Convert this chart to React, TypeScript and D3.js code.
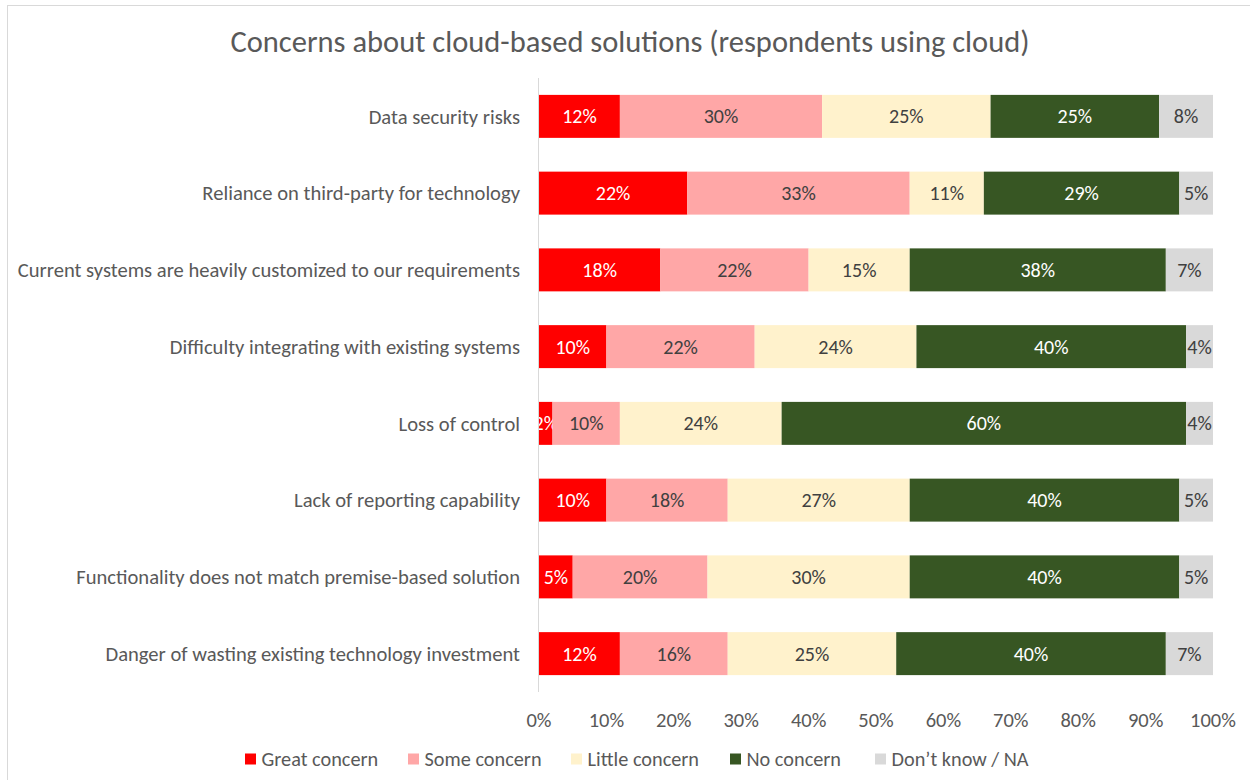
import React, { useEffect, useRef } from "react";
import * as d3 from "d3";

const categories = [
  "Data security risks",
  "Reliance on third-party for technology",
  "Current systems are heavily customized to our requirements",
  "Difficulty integrating with existing systems",
  "Loss of control",
  "Lack of reporting capability",
  "Functionality does not match premise-based solution",
  "Danger of wasting existing technology investment",
];

const seriesNames = ["Great concern", "Some concern", "Little concern", "No concern", "Don\u2019t know / NA"];

const greatConcern = [12, 22, 18, 10, 2, 10, 5, 12];
const someConcern = [30, 33, 22, 22, 10, 18, 20, 16];
const littleConcern = [25, 11, 15, 24, 24, 27, 30, 25];
const noConcern = [25, 29, 38, 40, 60, 40, 40, 40];
const dontKnow = [8, 5, 7, 4, 4, 5, 5, 7];

const xTicks = [0, 10, 20, 30, 40, 50, 60, 70, 80, 90, 100];

const colors = ["#FF0000", "#FFA7A7", "#FFF2CC", "#375623", "#D9D9D9"];
const labelColors = ["#FFFFFF", "#404040", "#404040", "#FFFFFF", "#404040"];

const FONT = "Carlito, Lato, 'Open Sans', sans-serif";

const App = () => {
  const svgRef = useRef<SVGSVGElement>(null);

  useEffect(() => {
    const width = 1250;
    const height = 780;
    const svg = d3.select(svgRef.current);
    svg.selectAll("*").remove();

    // chart frame
    svg
      .append("rect")
      .attr("x", 7.5)
      .attr("y", 5.5)
      .attr("width", width + 20)
      .attr("height", height + 20)
      .attr("fill", "#fff")
      .attr("stroke", "#D9D9D9");

    // title
    svg
      .append("text")
      .attr("x", 630)
      .attr("y", 52)
      .attr("text-anchor", "middle")
      .attr("fill", "#595959")
      .style("font-family", FONT)
      .style("font-weight", 300)
      .style("font-size", "30.5px")
      .text("Concerns about cloud-based solutions (respondents using cloud)");

    const series = [greatConcern, someConcern, littleConcern, noConcern, dontKnow];

    const x = d3.scaleLinear().domain([0, 100]).range([539, 1213]);
    const y = d3
      .scaleBand()
      .domain(categories)
      .range([78, 692])
      .paddingInner(0.44)
      .paddingOuter(0.22);

    // stacked rows
    const rows = categories.map((c, i) => {
      const r: any = { cat: c };
      series.forEach((s, k) => (r["s" + k] = s[i]));
      return r;
    });
    const stack = d3.stack().keys(series.map((_, k) => "s" + k));
    const stacked = stack(rows);

    stacked.forEach((layer, k) => {
      const g = svg.append("g");
      g.selectAll("rect")
        .data(layer)
        .enter()
        .append("rect")
        .attr("x", (d) => x(d[0]))
        .attr("y", (d: any) => y(d.data.cat)!)
        .attr("width", (d) => Math.max(0, x(d[1]) - x(d[0])))
        .attr("height", y.bandwidth())
        .attr("fill", colors[k]);

      g.selectAll("text")
        .data(layer)
        .enter()
        .append("text")
        .attr("x", (d) => (x(d[0]) + x(d[1])) / 2)
        .attr("y", (d: any) => y(d.data.cat)! + y.bandwidth() / 2)
        .attr("dy", "0.35em")
        .attr("text-anchor", "middle")
        .attr("fill", labelColors[k])
        .style("font-family", FONT)
        .style("font-size", "20px")
        .text((d) => `${d[1] - d[0]}%`);
    });

    // category axis line
    svg
      .append("line")
      .attr("x1", x(0) - 0.5)
      .attr("x2", x(0) - 0.5)
      .attr("y1", 78)
      .attr("y2", 692)
      .attr("stroke", "#D9D9D9");

    // category labels
    svg
      .append("g")
      .selectAll("text")
      .data(categories)
      .enter()
      .append("text")
      .attr("x", 520)
      .attr("y", (d) => y(d)! + y.bandwidth() / 2)
      .attr("dy", "0.35em")
      .attr("text-anchor", "end")
      .attr("fill", "#595959")
      .style("font-family", FONT)
      .style("font-size", "20.6px")
      .text((d) => d);

    // x tick labels
    svg
      .append("g")
      .selectAll("text")
      .data(xTicks)
      .enter()
      .append("text")
      .attr("x", (d) => x(d))
      .attr("y", 720)
      .attr("dy", "0.35em")
      .attr("text-anchor", "middle")
      .attr("fill", "#595959")
      .style("font-family", FONT)
      .style("font-size", "20.5px")
      .text((d) => `${d}%`);

    // legend
    const legendX = [245, 408, 571, 730, 875];
    const legend = svg
      .append("g")
      .selectAll("g")
      .data(seriesNames)
      .enter()
      .append("g")
      .attr("transform", (_, i) => `translate(${legendX[i]}, 759)`);
    legend
      .append("rect")
      .attr("x", 0)
      .attr("y", -5.5)
      .attr("width", 11)
      .attr("height", 11)
      .attr("fill", (_, i) => colors[i]);
    legend
      .append("text")
      .attr("x", 16.5)
      .attr("y", 0)
      .attr("dy", "0.35em")
      .attr("fill", "#595959")
      .style("font-family", FONT)
      .style("font-size", "20.3px")
      .text((d) => d);
  }, []);

  return (
    <svg
      ref={svgRef}
      width={1250}
      height={780}
      style={{ position: "absolute", left: 0, top: 0, background: "#fff" }}
    ></svg>
  );
};

export default App;
